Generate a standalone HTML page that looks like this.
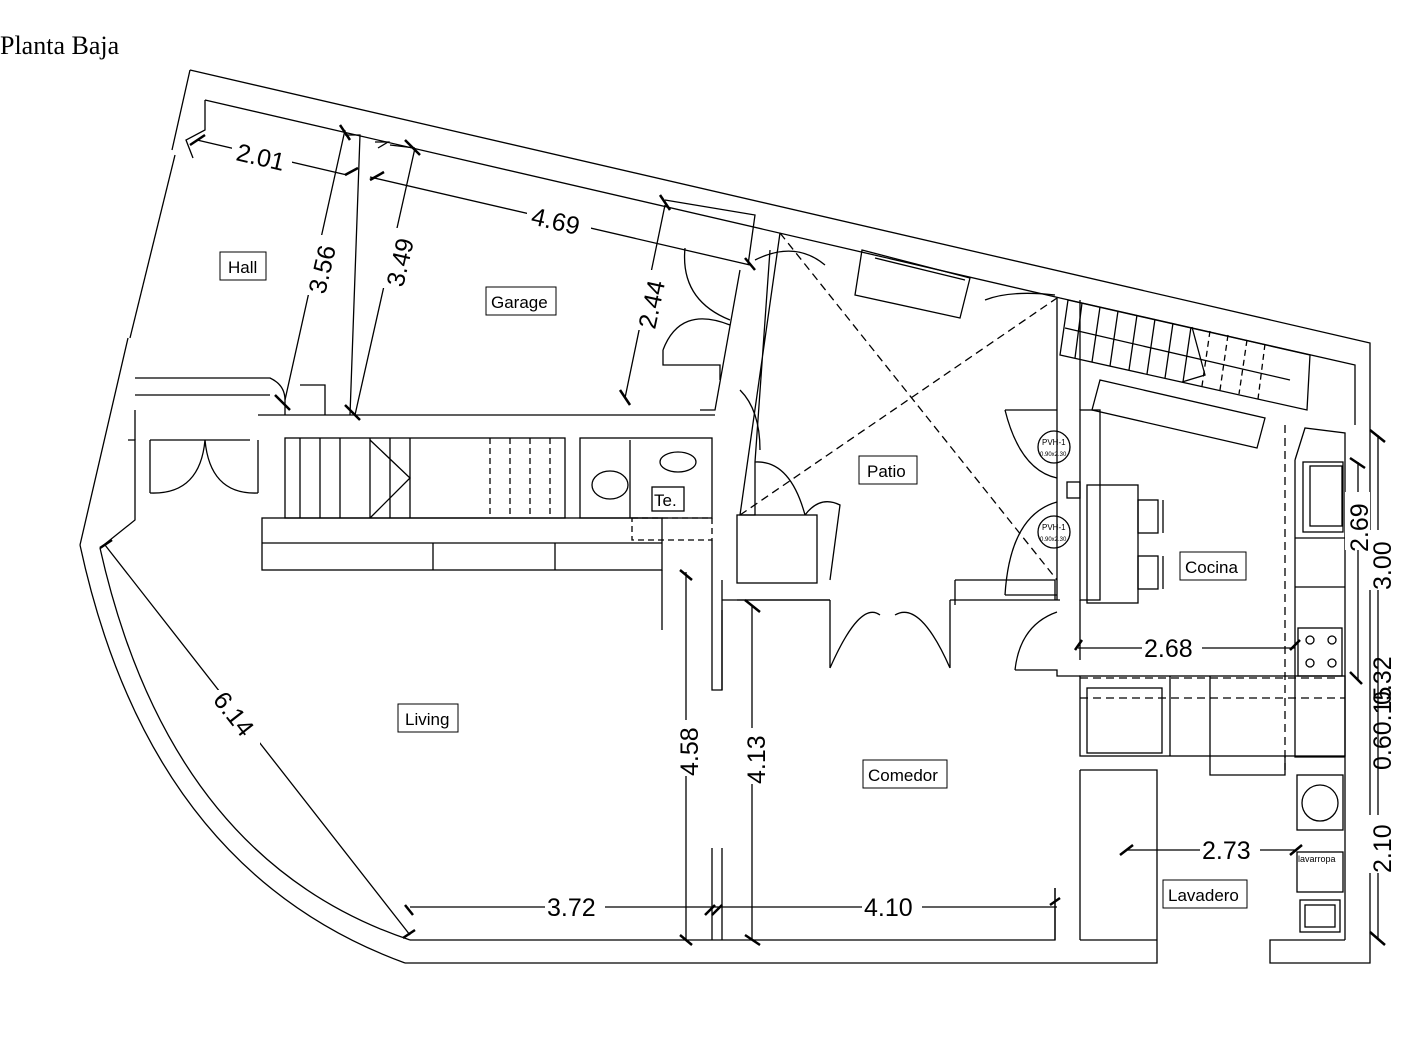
<!DOCTYPE html>
<html><head><meta charset="utf-8"><style>
body{margin:0;background:#fff;width:1413px;height:1060px;overflow:hidden}
svg{position:absolute;left:0;top:0}
text{font-family:"Liberation Sans",sans-serif;fill:#000}
.t{font-family:"Liberation Serif",serif}
.d{font-size:25px}
.l{font-size:17px}
</style></head><body>
<svg width="1413" height="1060" viewBox="0 0 1413 1060" fill="none" stroke="#000" stroke-width="1.3">
<text class="t" x="0" y="54" style="font-size:26px" stroke="none">Planta Baja</text>
<!-- outer walls -->
<path d="M190,70 L1370,343 L1370,963 L1270,963 L1270,940 L1345,940"/>
<path d="M1157,940 L1157,963 L405,963"/>
<path d="M190,70 L172,150 M205,100 L205,130 L186,140 L193,158"/>
<path d="M205,100 L1060,298 M1060,298 L1355,365 L1355,425"/>
<path d="M175,155 L130,338"/>
<path d="M80,545 Q150,870 405,963 M100,548 Q170,860 410,940"/>
<path d="M80,545 L128,338 M100,548 L135,520 L135,440 L128,440"/>
<!-- inner bottom -->
<path d="M410,940 L1055,940 L1055,888 M1080,940 L1157,940 M1080,770 L1080,940 M1080,770 L1157,770 L1157,940"/>
<!-- hall/garage walls -->
<path d="M135,378 L270,378 Q285,385 285,400 L285,415 M135,395 L270,395 M135,410 L135,440 M150,440 L150,493 M258,440 L258,493 M258,415 L715,415"/>
<path d="M300,385 L325,385 L325,415 M150,440 L250,440"/>
<path d="M345,135 L360,135 L350,415 M375,142 L388,142 L378,148 M390,145 L415,148"/>
<path d="M665,200 L755,215 L748,265 M740,270 L715,410 L700,410"/>
<path d="M780,233 L740,515 L755,515 L755,462 L770,250"/>
<!-- stairs -->
<rect x="285" y="438" width="280" height="80"/>
<path d="M300,438 V518 M320,438 V518 M340,438 V518 M370,438 V518 M390,438 V518 M410,438 V518"/>
<path d="M370,440 L410,478 L370,518" />
<path d="M490,438 V518 M510,438 V518 M530,438 V518 M550,438 V518" stroke-dasharray="6,4"/>
<rect x="262" y="518" width="400" height="52"/>
<path d="M262,543 H662 M433,543 V570 M555,543 V570 M662,570 V630"/>
<!-- bath -->
<rect x="580" y="438" width="132" height="80"/>
<path d="M630,440 V518" /><path d="M632,518 H712 V540 H632 Z" stroke-dasharray="6,4"/>
<ellipse cx="610" cy="485" rx="18" ry="14"/><ellipse cx="678" cy="462" rx="18" ry="10"/>
<rect x="652" y="487" width="32" height="24"/><text x="654" y="506" class="l" stroke="none">Te.</text>
<path d="M712,540 V690 H722 V580"/>
<!-- patio -->
<path d="M780,233 L1057,580 M740,515 L1057,298" stroke-dasharray="8,5"/>
<path d="M862,250 L970,278 L960,318 L855,295 Z M875,258 L965,280"/>
<rect x="737" y="515" width="80" height="68"/>
<path d="M830,600 V668 M950,600 V668 M830,600 H737 M950,600 H1060 M830,668 Q860,600 880,615 M950,668 Q920,600 895,615"/>
<path d="M955,580 H1055 V600 M955,580 V605"/>
<!-- kitchen -->
<path d="M1057,298 V600 M1080,300 V410 M1080,600 V660"/>
<rect x="1080" y="410" width="20" height="190"/>
<rect x="1067" y="482" width="13" height="16"/>
<circle cx="1054" cy="447" r="16"/><circle cx="1054" cy="532" r="16"/>
<text x="1042" y="445" style="font-size:8px" stroke="none">PVH-1</text>
<text x="1040" y="456" style="font-size:6px" stroke="none">0.90x2.30</text>
<text x="1042" y="530" style="font-size:8px" stroke="none">PVH-1</text>
<text x="1040" y="541" style="font-size:6px" stroke="none">0.90x2.30</text>
<path d="M1005,410 Q1020,470 1057,478 M1005,410 H1057 M1005,595 H1057 M1005,595 Q1010,515 1057,502"/>
<rect x="1087" y="485" width="51" height="118"/>
<rect x="1138" y="500" width="20" height="33"/><rect x="1138" y="556" width="20" height="33"/>
<path d="M1163,500 V533 M1163,556 V589"/>
<path d="M1068,300 L1310,355 L1307,410 L1060,355 Z"/>
<path d="M1082,303 L1075,358 M1100,307 L1092,362 M1118,311 L1110,366 M1137,315 L1129,370 M1155,319 L1147,374 M1173,323 L1165,378 M1191,327 L1183,382"/>
<path d="M1210,331 L1202,386 M1228,335 L1220,390 M1247,340 L1239,394 M1265,344 L1258,399" stroke-dasharray="6,4"/>
<path d="M1065,328 L1290,380 M1192,327 L1205,375 L1182,382"/>
<path d="M1100,380 L1265,418 L1257,448 L1092,410 Z"/>
<path d="M1285,425 V770" stroke-dasharray="8,5"/>
<path d="M1295,460 V757 H1345 V433 L1305,428 L1295,460 M1345,433 V940"/>
<rect x="1303" y="462" width="40" height="70"/><rect x="1310" y="466" width="32" height="60"/>
<path d="M1295,538 H1345 M1295,587 H1345"/>
<rect x="1298" y="628" width="44" height="48"/>
<circle cx="1310" cy="640" r="4"/><circle cx="1332" cy="640" r="4"/><circle cx="1310" cy="663" r="4"/><circle cx="1332" cy="663" r="4"/>
<rect x="1080" y="676" width="265" height="80"/>
<path d="M1080,678 H1340 M1080,698 H1345" stroke-dasharray="8,5"/>
<rect x="1087" y="688" width="75" height="65"/><path d="M1170,676 V756 M1210,676 V775 H1285 V756"/>
<path d="M1015,670 Q1020,625 1057,612 M1015,670 H1057 V676 H1080"/>
<circle cx="1320" cy="803" r="18"/><rect x="1297" y="775" width="46" height="55"/>
<rect x="1297" y="852" width="46" height="40"/><rect x="1300" y="900" width="40" height="32"/><rect x="1305" y="905" width="30" height="22"/>
<text x="1298" y="862" style="font-size:9px" stroke="none">lavarropa</text>
<!-- doors -->
<path d="M205,440 Q200,495 150,493 M205,440 Q210,495 258,493"/>
<path d="M685,248 Q680,300 730,320 M663,350 Q680,305 730,325 M663,350 V365 H720 V380"/>
<path d="M755,260 Q795,240 825,265 M985,300 Q1010,290 1055,295"/>
<path d="M755,462 Q790,460 805,515 M805,515 Q820,495 840,505 L830,580"/>
<path d="M740,390 Q760,410 760,450"/>
<!-- partition walls -->
<path d="M722,600 H830 M722,610 V690 M712,848 V940 M722,848 V940 M1055,888 V940"/>
<!-- dimensions -->
<g stroke-width="2.5"><path d="M190,145 L205,135 M340,125 L350,140 M345,175 L358,168 M370,180 L384,172 M405,140 L420,155 M660,195 L670,210 M745,258 L755,270 M620,390 L630,405 M275,395 L290,410 M345,405 L360,420 M100,548 L112,540 M403,938 L415,930 M405,905 L413,915 M705,915 L715,905 M712,915 L722,905 M1050,905 L1060,898 M680,570 L692,580 M680,935 L692,945 M745,600 L760,612 M745,935 L760,945 M1370,430 L1385,442 M1350,458 L1365,468 M1350,672 L1362,684 M1370,932 L1385,945 M1120,855 L1133,845 M1290,855 L1302,845 M1075,650 L1082,640 M1290,650 L1300,640"/></g>
<path d="M197,140 L347,175 M370,177 L750,265 M345,130 L285,400 M415,148 L355,415 M665,205 L625,398 M105,545 L410,935 M410,907 H1057 M686,572 V940 M752,605 V940 M1078,648 H1295 M1358,462 V680 M1378,435 V940 M1127,850 H1295"/>
<g stroke="none">
<rect x="232" y="138" width="60" height="30" fill="#fff"/><text class="d" transform="translate(235,160) rotate(13)">2.01</text>
<rect x="527" y="205" width="64" height="32" fill="#fff"/><text class="d" transform="translate(530,224) rotate(13)">4.69</text>
<rect x="300" y="235" width="30" height="60" fill="#fff"/><text class="d" transform="translate(325,295) rotate(-77)">3.56</text>
<rect x="380" y="228" width="30" height="60" fill="#fff"/><text class="d" transform="translate(403,288) rotate(-77)">3.49</text>
<rect x="632" y="270" width="30" height="60" fill="#fff"/><text class="d" transform="translate(655,330) rotate(-78)">2.44</text>
<rect x="210" y="690" width="50" height="60" fill="#fff"/><text class="d" transform="translate(212,700) rotate(52)">6.14</text>
<rect x="545" y="895" width="60" height="25" fill="#fff"/><text class="d" x="547" y="916">3.72</text>
<rect x="862" y="895" width="60" height="25" fill="#fff"/><text class="d" x="864" y="916">4.10</text>
<rect x="675" y="720" width="25" height="56" fill="#fff"/><text class="d" transform="translate(698,776) rotate(-90)">4.58</text>
<rect x="742" y="728" width="25" height="56" fill="#fff"/><text class="d" transform="translate(765,784) rotate(-90)">4.13</text>
<rect x="1142" y="636" width="60" height="25" fill="#fff"/><text class="d" x="1144" y="657">2.68</text>
<rect x="1200" y="838" width="60" height="25" fill="#fff"/><text class="d" x="1202" y="859">2.73</text>
<rect x="1345" y="492" width="25" height="58" fill="#fff"/><text class="d" transform="translate(1368,552) rotate(-90)">2.69</text>
<rect x="1368" y="530" width="25" height="60" fill="#fff"/><text class="d" transform="translate(1391,590) rotate(-90)">3.00</text>
<rect x="1368" y="815" width="25" height="58" fill="#fff"/><text class="d" transform="translate(1391,873) rotate(-90)">2.10</text>
<text class="d" transform="translate(1391,705) rotate(-90)">0.32</text>
<text class="d" transform="translate(1391,770) rotate(-90)">0.60.15</text>
</g>
<!-- labels -->
<g stroke-width="1">
<rect x="220" y="252" width="46" height="28"/><rect x="486" y="287" width="70" height="28"/>
<rect x="859" y="456" width="58" height="28"/><rect x="1180" y="552" width="66" height="28"/>
<rect x="398" y="704" width="60" height="28"/><rect x="863" y="760" width="84" height="28"/>
<rect x="1163" y="880" width="84" height="28"/>
</g>
<g stroke="none" class="l">
<text x="228" y="273" class="l">Hall</text><text x="491" y="308" class="l">Garage</text>
<text x="867" y="477" class="l">Patio</text><text x="1185" y="573" class="l">Cocina</text>
<text x="405" y="725" class="l">Living</text><text x="868" y="781" class="l">Comedor</text>
<text x="1168" y="901" class="l">Lavadero</text>
</g>
</svg>
</body></html>
